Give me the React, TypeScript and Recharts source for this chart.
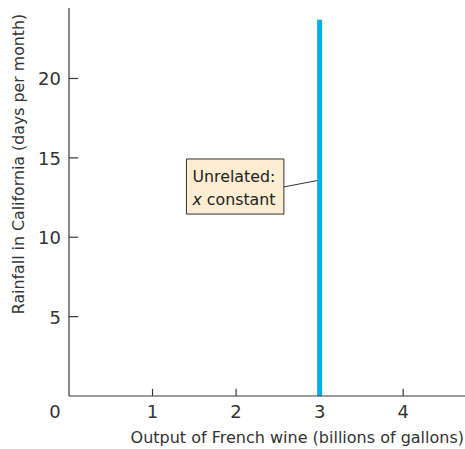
import {
  ComposedChart,
  Line,
  XAxis,
  YAxis,
  ReferenceArea,
  ReferenceLine,
  Label,
} from 'recharts'

const xTicks = [0, 1, 2, 3, 4]
const yTicks = [5, 10, 15, 20]
const xDomain = [0, 4.74]
const yDomain = [0, 24.44]

// vertical line: wine output fixed at 3, rainfall anything
const wineOutput = [3, 3]
const rainfall = [0, 23.7]
const lineData = wineOutput.map((x, i) => ({ x, y: rainfall[i] }))

// callout box and leader line (data coords)
const boxX = [1.406, 2.572]
const boxY = [11.46, 14.93]
const leader = [
  { x: 2.572, y: 13.17 },
  { x: 3, y: 13.6 },
]

// inward tick mark lengths in data units
const xTickLen = 0.45
const yTickLen = 0.11

const font = '"DejaVu Sans", sans-serif'
const axisColor = '#3a3a3a'
const textColor = '#333'
const tickFont = 18

function XTick(props: any) {
  const { x, y, payload } = props
  const v = payload.value
  return (
    <text
      x={v === 0 ? x - 14 : x}
      y={y + 22}
      textAnchor="middle"
      fontSize={tickFont}
      fill={textColor}
      fontFamily={font}
    >
      {v}
    </text>
  )
}

function YTick(props: any) {
  const { x, y, payload } = props
  return (
    <text x={x - 8} y={y + 7} textAnchor="end" fontSize={tickFont} fill={textColor} fontFamily={font}>
      {payload.value}
    </text>
  )
}

function CalloutText(props: any) {
  const { viewBox } = props
  const { x, y } = viewBox
  return (
    <text fontSize={15.8} fill="#222" fontFamily={font}>
      <tspan x={x + 6} y={y + 23}>Unrelated:</tspan>
      <tspan x={x + 6} y={y + 46}>
        <tspan fontStyle="italic">x</tspan> constant
      </tspan>
    </text>
  )
}

export default function App() {
  return (
    <div style={{ position: 'absolute', left: 0, top: 0, background: '#fff' }}>
      <ComposedChart
        width={465}
        height={449}
        data={lineData}
        margin={{ top: 8, right: 0, left: 0, bottom: 0 }}
      >
        <XAxis
          dataKey="x"
          type="number"
          domain={xDomain}
          ticks={xTicks}
          interval={0}
          tick={<XTick />}
          tickLine={false}
          tickSize={0}
          tickMargin={0}
          axisLine={{ stroke: axisColor, strokeWidth: 1.2 }}
          height={53}
          allowDataOverflow
        >
          <Label
            content={() => (
              <text x={464} y={443} textAnchor="end" fontSize={16} fill={textColor} fontFamily={font}>
                Output of French wine (billions of gallons)
              </text>
            )}
          />
        </XAxis>
        <YAxis
          type="number"
          domain={yDomain}
          ticks={yTicks}
          interval={0}
          tick={<YTick />}
          tickLine={false}
          tickSize={0}
          tickMargin={0}
          axisLine={{ stroke: axisColor, strokeWidth: 1.2 }}
          width={69}
          allowDataOverflow
        >
          <Label
            content={() => (
              <text
                x={0}
                y={0}
                transform="translate(24,164) rotate(-90)"
                textAnchor="middle"
                fontSize={15.8}
                fill={textColor}
                fontFamily={font}
              >
                Rainfall in California (days per month)
              </text>
            )}
          />
        </YAxis>
        {xTicks
          .filter((t) => t > 0)
          .map((t) => (
            <ReferenceLine
              key={'xt' + t}
              segment={[
                { x: t, y: 0 },
                { x: t, y: xTickLen },
              ]}
              stroke={axisColor}
              strokeWidth={1.2}
              ifOverflow="visible"
            />
          ))}
        {yTicks.map((t) => (
          <ReferenceLine
            key={'yt' + t}
            segment={[
              { x: 0, y: t },
              { x: yTickLen, y: t },
            ]}
            stroke={axisColor}
            strokeWidth={1.2}
            ifOverflow="visible"
          />
        ))}
        <ReferenceLine segment={leader} stroke="#333" strokeWidth={1} ifOverflow="visible" />
        <ReferenceArea
          x1={boxX[0]}
          x2={boxX[1]}
          y1={boxY[0]}
          y2={boxY[1]}
          fill="#FDEDD3"
          fillOpacity={1}
          stroke="#333"
          strokeWidth={1}
          ifOverflow="visible"
          label={<CalloutText />}
        />
        <Line
          dataKey="y"
          type="linear"
          stroke="#00AEEF"
          strokeWidth={5}
          dot={false}
          isAnimationActive={false}
        />
      </ComposedChart>
    </div>
  )
}
